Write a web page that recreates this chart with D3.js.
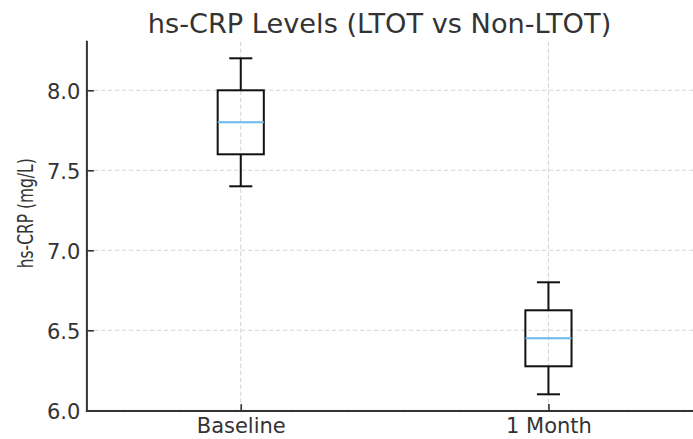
<!DOCTYPE html>
<html>
<head>
<meta charset="utf-8">
<script src="https://cdn.jsdelivr.net/npm/d3@7"></script>
<style>
  html, body { margin: 0; padding: 0; background: #fff; }
  svg { display: block; font-family: "DejaVu Sans", sans-serif; }
</style>
</head>
<body>
<svg id="chart" width="693" height="439"></svg>
<script>
// Box statistics per time point (mg/L)
const categories   = ["Baseline", "1 Month"];
const whiskerLow   = [7.4, 6.1];
const quartile1    = [7.6, 6.275];
const medians      = [7.8, 6.45];
const quartile3    = [8.0, 6.625];
const whiskerHigh  = [8.2, 6.8];
const yTickValues  = [6.0, 6.5, 7.0, 7.5, 8.0];

const boxes = categories.map((c, i) => ({
  name: c, pos: i + 1,
  lo: whiskerLow[i], q1: quartile1[i], med: medians[i],
  q3: quartile3[i], hi: whiskerHigh[i]
}));

const svg = d3.select("#chart");
const W = 693, H = 439;
svg.append("rect").attr("width", W).attr("height", H).attr("fill", "#fff");

const plot = { left: 86.9, right: 702.3, top: 41.5, bottom: 411.1 };

// Positional x axis like a box plot: positions 1..n with half-unit margins
const x = d3.scaleLinear().domain([0.5, 2.5]).range([plot.left, plot.right]);
const lo = d3.min(whiskerLow), hi = d3.max(whiskerHigh), pad = (hi - lo) * 0.05;
const y = d3.scaleLinear().domain([lo - pad, hi + pad]).range([plot.bottom, plot.top]);

const axisColor = "#333333";
const textColor = "#333333";

// Dashed grid
const grid = svg.append("g");
grid.selectAll("line.hg").data(yTickValues).join("line")
  .attr("x1", plot.left).attr("x2", plot.right)
  .attr("y1", d => y(d)).attr("y2", d => y(d))
  .attr("stroke", "#d6d6d6").attr("stroke-width", 1.1)
  .attr("stroke-dasharray", "4.5,2.5");
grid.selectAll("line.vg").data(boxes).join("line")
  .attr("x1", d => x(d.pos)).attr("x2", d => x(d.pos))
  .attr("y1", plot.top).attr("y2", plot.bottom)
  .attr("stroke", "#d6d6d6").attr("stroke-width", 1.1)
  .attr("stroke-dasharray", "4.5,2.5");

// Boxes
const boxW = 0.15, capW = 0.075;
const g = svg.append("g");
boxes.forEach(b => {
  const gb = g.append("g");
  const line = (x1, y1, x2, y2, col, w) => gb.append("line")
    .attr("x1", x1).attr("y1", y1).attr("x2", x2).attr("y2", y2)
    .attr("stroke", col || "#111").attr("stroke-width", w || 2);
  // whiskers
  line(x(b.pos), y(b.q3), x(b.pos), y(b.hi));
  line(x(b.pos), y(b.q1), x(b.pos), y(b.lo));
  // caps
  line(x(b.pos - capW / 2), y(b.hi), x(b.pos + capW / 2), y(b.hi));
  line(x(b.pos - capW / 2), y(b.lo), x(b.pos + capW / 2), y(b.lo));
  // box
  gb.append("rect")
    .attr("x", x(b.pos - boxW / 2)).attr("y", y(b.q3))
    .attr("width", x(b.pos + boxW / 2) - x(b.pos - boxW / 2))
    .attr("height", y(b.q1) - y(b.q3))
    .attr("fill", "none").attr("stroke", "#111").attr("stroke-width", 2);
  // median
  line(x(b.pos - boxW / 2), y(b.med), x(b.pos + boxW / 2), y(b.med), "#6ab8ea", 2);
});

// Axes (ticks point inward)
const yAxis = d3.axisLeft(y).tickValues(yTickValues).tickFormat(d3.format(".1f"))
  .tickSizeInner(-7).tickSizeOuter(0).tickPadding(6.5);
const gy = svg.append("g").attr("transform", `translate(${plot.left},0)`).call(yAxis);
gy.select(".domain").remove();
gy.selectAll(".tick line").attr("stroke", axisColor).attr("stroke-width", 1.6);
gy.selectAll(".tick text").attr("fill", textColor).attr("font-size", 21)
  .attr("font-family", "DejaVu Sans").attr("dy", "0.38em");

const xAxis = d3.axisBottom(x).tickValues(boxes.map(b => b.pos))
  .tickFormat((d, i) => categories[i]).tickSizeInner(-7).tickSizeOuter(0).tickPadding(7.4);
const gx = svg.append("g").attr("transform", `translate(0,${plot.bottom})`).call(xAxis);
gx.select(".domain").remove();
gx.selectAll(".tick line").attr("stroke", axisColor).attr("stroke-width", 1.6);
gx.selectAll(".tick text").attr("fill", textColor).attr("font-size", 21)
  .attr("font-family", "DejaVu Sans");

// Spines: left and bottom only
svg.append("line").attr("x1", plot.left).attr("x2", plot.left)
  .attr("y1", plot.top - 0.8).attr("y2", plot.bottom + 1)
  .attr("stroke", axisColor).attr("stroke-width", 2);
svg.append("line").attr("x1", plot.left - 1).attr("x2", plot.right)
  .attr("y1", plot.bottom).attr("y2", plot.bottom)
  .attr("stroke", axisColor).attr("stroke-width", 2);

// Title
svg.append("text")
  .attr("x", 379.5).attr("y", 33)
  .attr("text-anchor", "middle")
  .attr("font-size", 27.2).attr("fill", textColor)
  .text("hs-CRP Levels (LTOT vs Non-LTOT)");

// Y label (condensed along its length)
svg.append("text")
  .attr("transform", "translate(33,213.3) rotate(-90)")
  .attr("text-anchor", "middle")
  .attr("font-size", 20.5).attr("fill", textColor)
  .attr("textLength", 110).attr("lengthAdjust", "spacingAndGlyphs")
  .text("hs-CRP (mg/L)");
</script>
</body>
</html>
